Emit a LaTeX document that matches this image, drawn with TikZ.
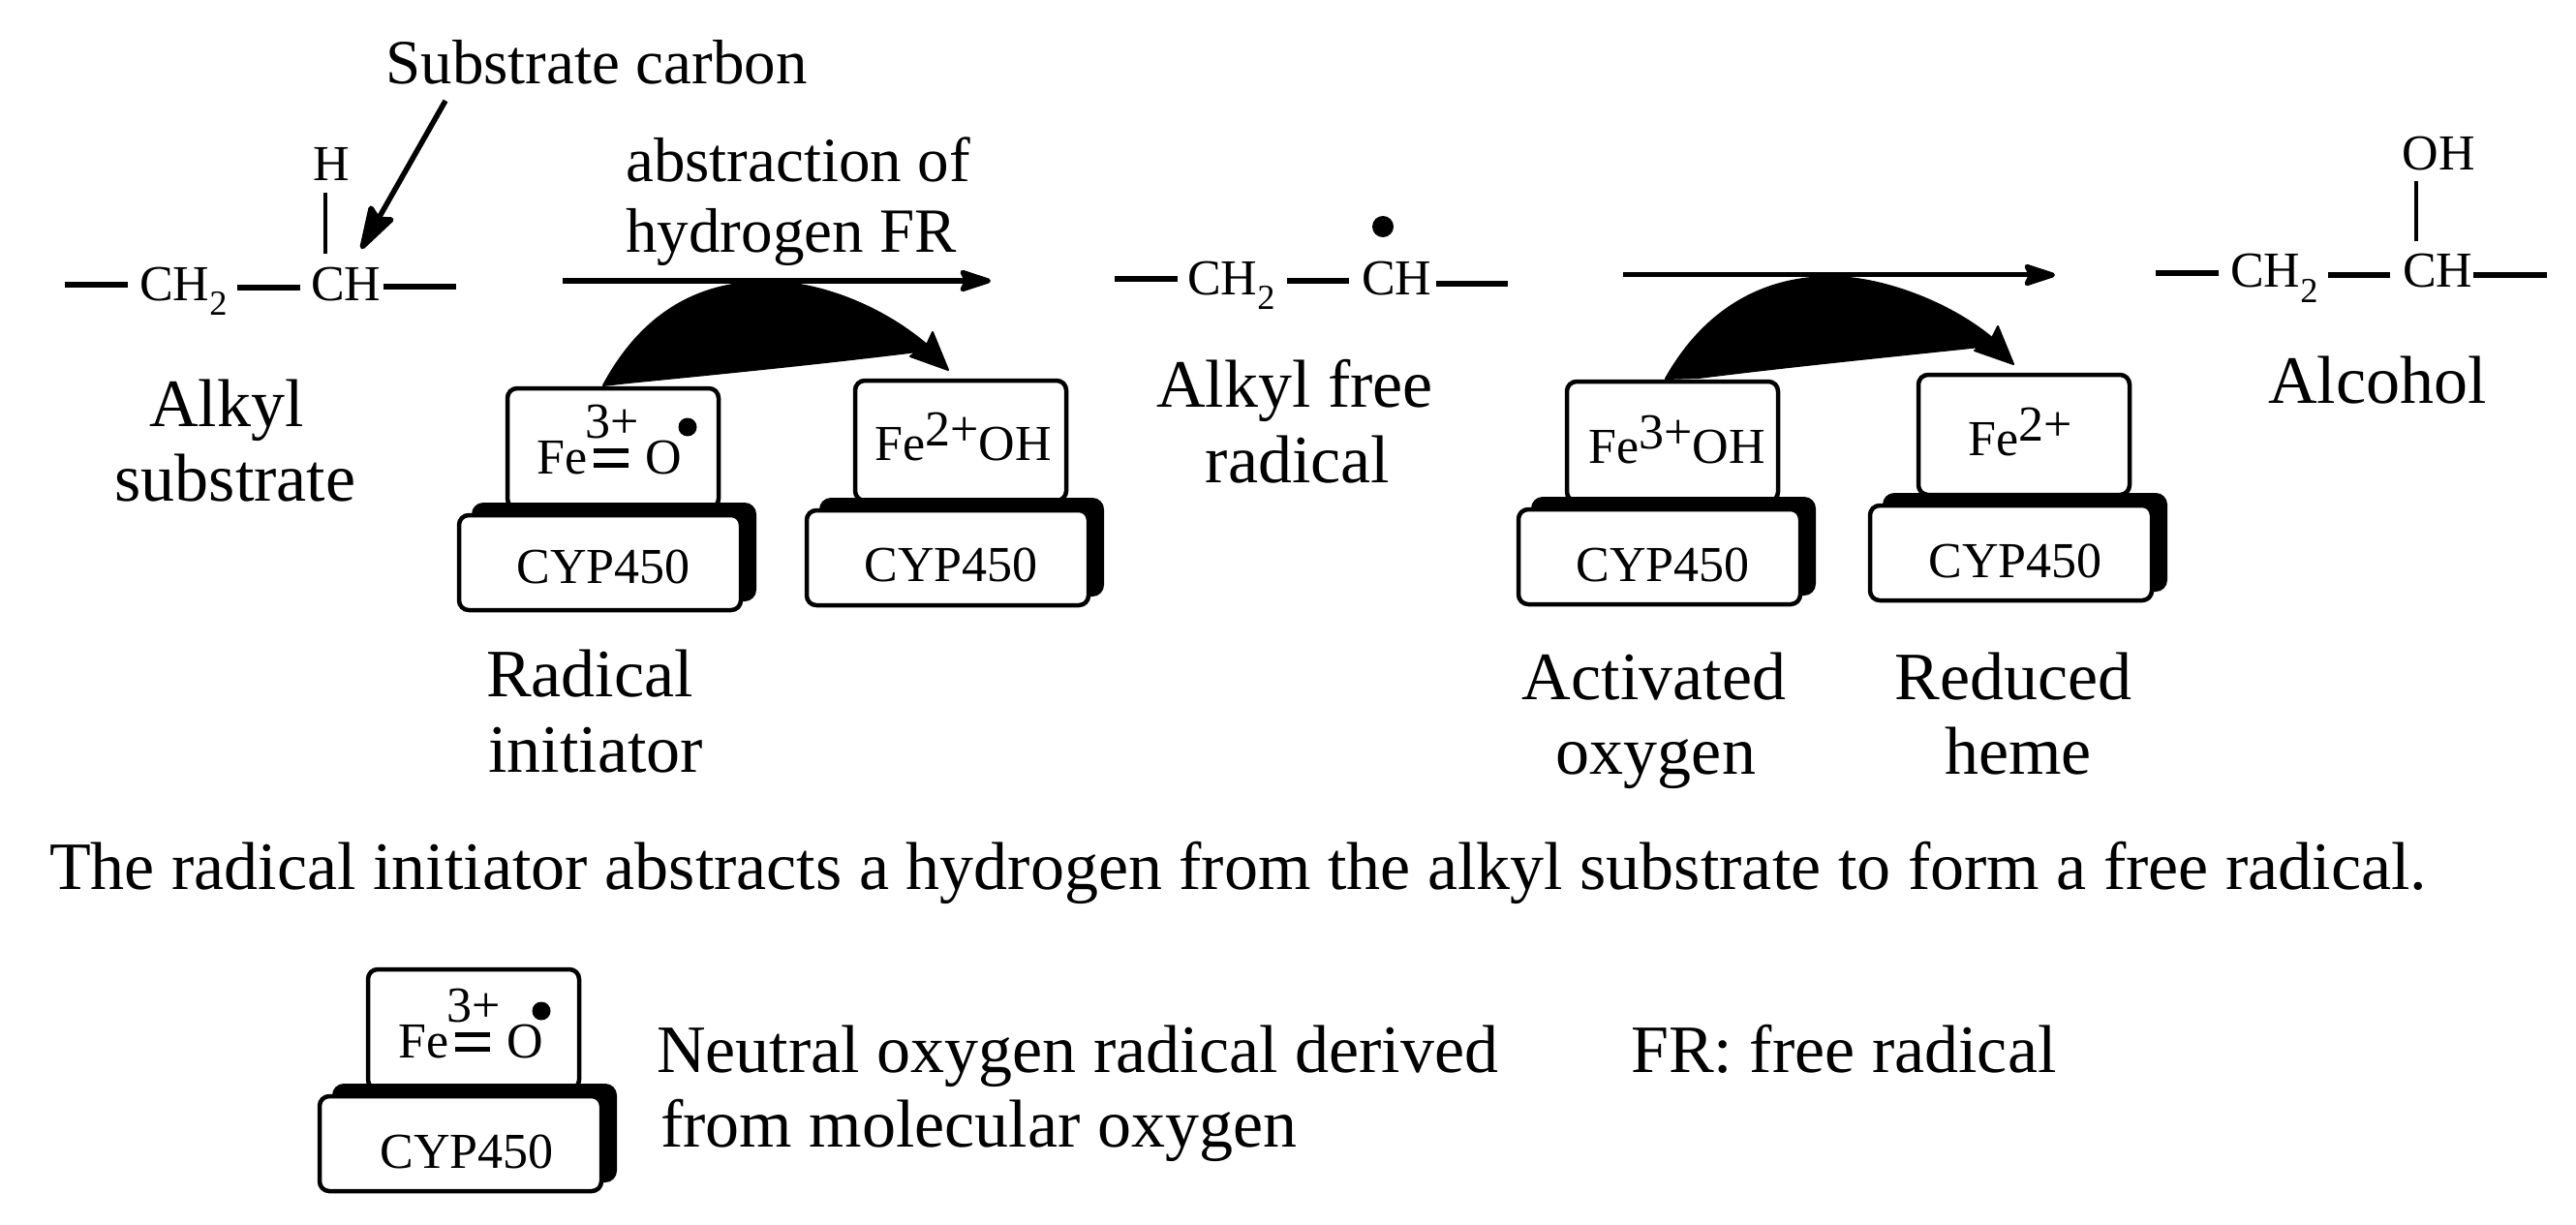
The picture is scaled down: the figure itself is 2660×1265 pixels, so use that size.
\documentclass[tikz,border=0pt]{standalone}
\usepackage{fontspec}
\setmainfont{Liberation Serif}
\usetikzlibrary{arrows.meta}
\newcommand{\bigsz}{\fontsize{70}{78}\selectfont}
\newcommand{\midsz}{\fontsize{65}{72}\selectfont}
\newcommand{\smsz}{\fontsize{52}{60}\selectfont}
\tikzset{
  big/.style={inner sep=0pt,anchor=base,font=\bigsz},
  bigw/.style={inner sep=0pt,anchor=base west,font=\bigsz},
  mid/.style={inner sep=0pt,anchor=base,font=\midsz},
  small/.style={inner sep=0pt,anchor=base,font=\smsz},
  smallw/.style={inner sep=0pt,anchor=base west,font=\smsz},
  bond/.style={line width=5.5pt},
  thin bond/.style={line width=4pt},
  upperbox/.style={draw,line width=4.5pt,rounded corners=10pt,fill=white},
  lowerbox/.style={draw,line width=4.5pt,rounded corners=10pt,fill=white},
  shadowbox/.style={fill=black,rounded corners=12pt},
  rxn/.style={line width=5pt,-{Stealth[round,length=39pt,width=25pt,inset=6pt]}},
  pointer/.style={line width=5.5pt,-{Stealth[round,length=53pt,width=32pt,inset=8pt]}},
  swoop/.style={fill=black,draw=black,line width=2pt,line join=round},
}
% #1 name, #2 dx, #3 dy of the upper box, #4 extra dy of the lower part
\newcommand{\cypstack}[4]{%
  \begin{scope}[shift={(#2,#3)}]
    \path[upperbox] (380,1001) rectangle (598,1125);
    \path[shadowbox] (343,1119+#4) rectangle (637,1221+#4);
    \path[lowerbox] (330,1132+#4) rectangle (621,1230+#4);
  \end{scope}}
\newcommand{\feo}[4]{%
  \begin{scope}[shift={(#2,#3)}]
    \node[smallw] (#1fe) at (411,1092) {Fe};
    \node[smallw] (#1three) at (461,1055) {3+};
    \fill (470,1066) rectangle (506,1071);
    \fill (470,1081) rectangle (506,1086);
    \node[smallw] (#1o) at (523,1092) {O};
    \fill (#4,1044) circle (9.5);
  \end{scope}}
\begin{document}
\begin{tikzpicture}[x=1pt,y=-1pt]
\useasboundingbox (0,0) rectangle (2660,1265);
% enzyme stacks
\cypstack{a}{144}{-600}{0}
\cypstack{b}{503}{-608}{3}
\cypstack{c}{1238}{-607}{1}
\cypstack{d}{1601}{-614}{4}
\cypstack{l}{0}{0}{0}
% labels in stacks
\feo{a}{143}{-603}{567}
\feo{l}{0}{0}{559}
\node[small] (cypa) at (623,602) {CYP450};
\node[small] (cypb) at (982,600) {CYP450};
\node[small] (cypc) at (1717,600) {CYP450};
\node[small] (cypd) at (2081,596) {CYP450};
\node[small] (cypl) at (482,1206) {CYP450};
\node[smallw] (feb) at (903,475) {Fe\raisebox{15pt}{2+}OH};
\node[smallw] (fec) at (1640,478) {Fe\raisebox{15pt}{3+}OH};
\node[smallw] (fed) at (2032,470) {Fe\raisebox{15pt}{2+}};
% substrate
\node[mid] (subc) at (616,87) {Substrate carbon};
\node[small] (h1) at (342,187) {H};
\node[smallw] (ch21) at (144,310) {CH\textsubscript{2}};
\node[smallw] (ch1) at (321,310) {CH};
\coordinate (s1a) at (67,294); \coordinate (s1b) at (132,294);
\coordinate (s2a) at (245,297); \coordinate (s2b) at (310,297);
\coordinate (s3a) at (396,296); \coordinate (s3b) at (471,296);
\coordinate (hA) at (336,199); \coordinate (hB) at (336,262);
\draw[bond] (s1a) -- (s1b);
\draw[bond] (s2a) -- (s2b);
\draw[bond] (s3a) -- (s3b);
\draw[thin bond] (hA) -- (hB);
\coordinate (pf) at (460,104); \coordinate (pt) at (373,257);
\draw[pointer] (pf) -- (pt);
\node[big] at (234,440) {Alkyl};
\node[big] at (243,517) {substrate};
% first arrow
\node[mid] (abs) at (824,188) {abstraction of};
\node[mid] (hfr) at (817,261) {hydrogen FR};
\coordinate (r1a) at (581,290); \coordinate (r1b) at (1023,290);
\draw[rxn] (r1a) -- (r1b);
\path[swoop] (623,398) .. controls (665,320) and (725,291) .. (793,291)
  .. controls (840,291) and (905,312) .. (957,356)
  -- (963,343) -- (979,382) -- (940,368) -- (947,363)
  .. controls (850,375) and (750,385) .. (649,395) -- cycle;
\node[big] at (609,719) {Radical};
\node[big] at (615,797) {initiator};
% radical
\node[smallw] (ch22) at (1226,304) {CH\textsubscript{2}};
\node[smallw] (ch2) at (1406,304) {CH};
\coordinate (t1a) at (1151,288); \coordinate (t1b) at (1216,288);
\coordinate (t2a) at (1329,290); \coordinate (t2b) at (1393,290);
\coordinate (t3a) at (1483,293); \coordinate (t3b) at (1557,293);
\draw[bond] (t1a) -- (t1b);
\draw[bond] (t2a) -- (t2b);
\draw[bond] (t3a) -- (t3b);
\fill (1428,234) circle (11);
\node[big] at (1337,420) {Alkyl free};
\node[big] at (1340,498) {radical};
% second arrow
\coordinate (r2a) at (1676,284); \coordinate (r2b) at (2122,284);
\draw[rxn] (r2a) -- (r2b);
\path[swoop] (1720,391) .. controls (1760,320) and (1820,286) .. (1891,286)
  .. controls (1940,286) and (2010,310) .. (2057,349)
  -- (2063,337) -- (2079,376) -- (2039,362) -- (2045,358)
  .. controls (1950,368) and (1850,378) .. (1754,390) -- cycle;
\node[big] at (1708,722) {Activated};
\node[big] at (1710,799) {oxygen};
\node[big] at (2079,722) {Reduced};
\node[big] at (2084,799) {heme};
% alcohol
\node[small] (oh) at (2518,176) {OH};
\node[smallw] (ch23) at (2303,297) {CH\textsubscript{2}};
\node[smallw] (ch3) at (2481,297) {CH};
\coordinate (u1a) at (2226,282); \coordinate (u1b) at (2291,282);
\coordinate (u2a) at (2404,284); \coordinate (u2b) at (2468,284);
\coordinate (u3a) at (2554,284); \coordinate (u3b) at (2630,284);
\coordinate (uA) at (2495,187); \coordinate (uB) at (2495,249);
\draw[bond] (u1a) -- (u1b);
\draw[bond] (u2a) -- (u2b);
\draw[bond] (u3a) -- (u3b);
\draw[thin bond] (uA) -- (uB);
\node[big] at (2455,416) {Alcohol};
% caption
\node[bigw] (cap) at (51,918) {The radical initiator abstracts a hydrogen from the alkyl substrate to form a free radical.};
\node[bigw] (n1) at (678,1107) {Neutral oxygen radical derived};
\node[bigw] (n2) at (682,1184) {from molecular oxygen};
\node[bigw] (fr) at (1684,1107) {FR: free radical};
\end{tikzpicture}
\end{document}
